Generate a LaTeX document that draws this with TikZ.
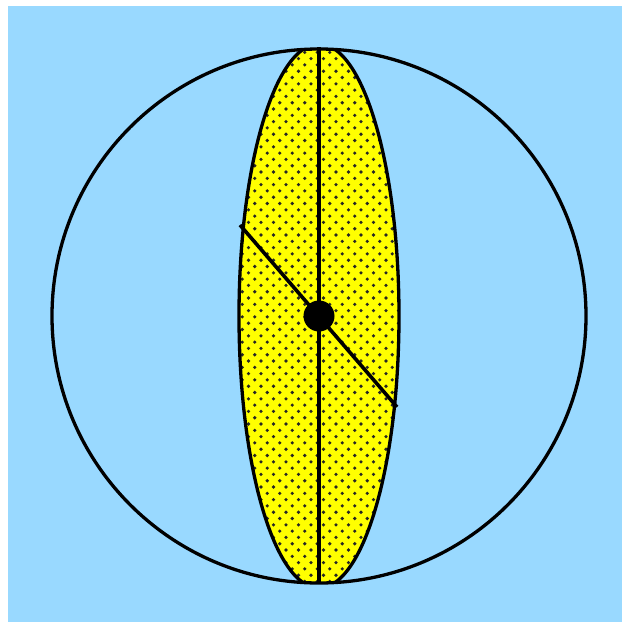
\documentclass[tikz,border=0pt]{standalone}
\definecolor{skyb}{RGB}{153,217,255}
\definecolor{yel}{RGB}{255,255,0}
\tikzset{
  outline/.style={draw=black, line width=3.3pt},
  stroke/.style={draw=black, line width=3.6pt},
}
\begin{document}
\begin{tikzpicture}[x=1pt,y=-1pt]
\useasboundingbox (0,0) rectangle (622,622);
\fill[white] (0,0) rectangle (622,622);
\fill[skyb] (8,6) rectangle (622,622);
\coordinate (c) at (319,316);
\begin{scope}
\clip (c) circle (267);
% ellipse with dotted fill
\fill[yel] (c) ellipse [x radius=80, y radius=272];
\begin{scope}
\clip (c) ellipse [x radius=80, y radius=272];
\foreach \j in {0,...,88}{
  \pgfmathsetmacro{\yy}{46+\j*6.3}
  \pgfmathsetmacro{\off}{mod(\j,2)*6.25}
  \foreach \i in {0,...,14}{
    \fill[black!85] ({236+\off+\i*12.5},\yy) circle (1.8);
  }
}
\end{scope}
\draw[outline] (c) ellipse [x radius=80, y radius=272];
\end{scope}
\draw[outline] (c) circle (267);
\coordinate (top) at (319,47);
\coordinate (bot) at (319,584);
\coordinate (dl) at (240,225);
\coordinate (dr) at (397,407);
\draw[stroke] (top) -- (bot);
\draw[stroke] (dl) -- (dr);
\fill[black] (c) circle (15.5);
\end{tikzpicture}
\end{document}
